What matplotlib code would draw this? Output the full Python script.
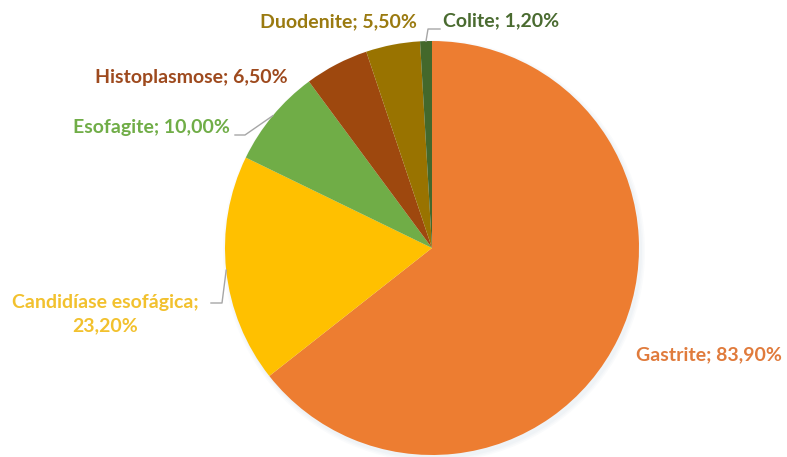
import matplotlib.pyplot as plt
from matplotlib.patches import Circle
import numpy as np

# data
labels = ['Gastrite', 'Candidíase esofágica', 'Esofagite',
          'Histoplasmose', 'Duodenite', 'Colite']
values = [83.9, 23.2, 10.0, 6.5, 5.5, 1.2]
label_texts = ['Gastrite; 83,90%', 'Candidíase esofágica;\n23,20%',
               'Esofagite; 10,00%', 'Histoplasmose; 6,50%',
               'Duodenite; 5,50%', 'Colite; 1,20%']
colors = ['#ED7D31', '#FFC000', '#70AD47', '#9E480E', '#997300', '#43682B']
text_colors = ['#E07B3C', '#F2C12E', '#70AD47', '#9E4A1E', '#9A7A10', '#4A6B30']

W, H = 787, 457
cx, cy, r = 432, H - 248, 207

fig = plt.figure(figsize=(W / 100, H / 100), dpi=100)
ax = fig.add_axes([0, 0, 1, 1])

# soft shadow behind the pie
for i, a in enumerate([0.05, 0.05, 0.06]):
    ax.add_patch(Circle((cx + 2, cy - 3), r + 4 - i * 1.5, color='#9fb3c8',
                        alpha=a, lw=0, zorder=0))

wedges, _ = ax.pie(values, colors=colors, startangle=90, counterclock=False,
                   center=(cx, cy), radius=r, frame=True,
                   wedgeprops=dict(linewidth=0))
ax.set_xlim(0, W)
ax.set_ylim(0, H)
ax.set_aspect('equal')
ax.axis('off')

# label placement (pixel coords from top-left)
label_pos = [(709, 355), (105, 314), (151, 128),
             (191, 77), (338, 22), (501, 21)]

for txt, col, (x, y) in zip(label_texts, text_colors, label_pos):
    ax.text(x, H - y, txt, color=col, ha='center', va='center', fontsize=14,
            fontweight='bold', family=['Lato', 'DejaVu Sans'],
            linespacing=1.4)

# leader lines, from wedge mid angle to the label
def edge_point(w):
    th = np.deg2rad((w.theta1 + w.theta2) / 2)
    return cx + r * np.cos(th), cy + r * np.sin(th)

leaders = {2: [(245, 135), (235, 135)],
           1: [(222, 303), (211, 303)],
           5: [(428, 29), (440, 29)]}
for idx, pts in leaders.items():
    ex, ey = edge_point(wedges[idx])
    xs = [ex] + [p[0] for p in pts]
    ys = [ey] + [H - p[1] for p in pts]
    ax.plot(xs, ys, color='#a6a6a6', lw=1, zorder=3)

fig.savefig('out.png', dpi=100, facecolor='white')
